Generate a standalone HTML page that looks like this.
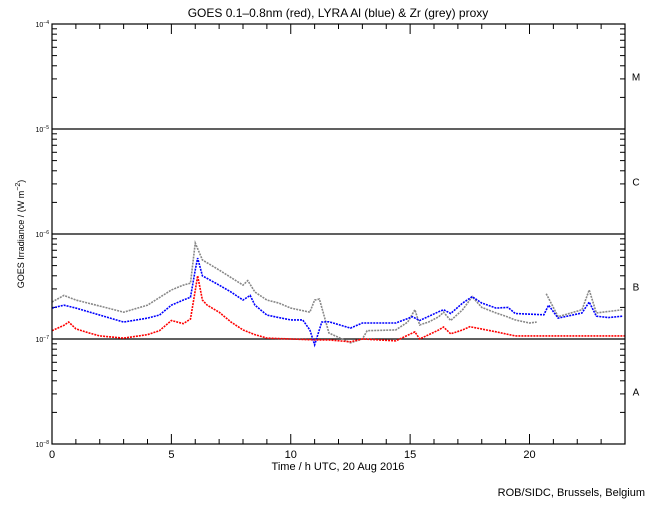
<!DOCTYPE html>
<html><head><meta charset="utf-8"><style>
body{margin:0;background:#fff;}
svg text{font-family:"Liberation Sans",sans-serif;}
</style></head><body>
<svg id="c" width="650" height="500" xmlns="http://www.w3.org/2000/svg">
<rect width="650" height="500" fill="#fff"/>
<text x="338" y="17" font-size="12" text-anchor="middle">GOES 0.1–0.8nm (red), LYRA Al (blue) &amp; Zr (grey) proxy</text>
<text x="338" y="470" font-size="11" text-anchor="middle">Time / h UTC, 20 Aug 2016</text>
<text transform="translate(24,234) rotate(-90)" font-size="9" text-anchor="middle">GOES Irradiance / (W m<tspan dy="-4" font-size="7">−2</tspan><tspan dy="4">)</tspan></text>
<text x="645" y="496" font-size="11" text-anchor="end">ROB/SIDC, Brussels, Belgium</text>
<g id="axes"></g><g id="series"></g>
<rect x="52" y="24" width="573" height="420" fill="none" stroke="#000" stroke-width="1.2"/>
</svg>
<script>
const classLabels=["A","B","C","M"];
const yDecades=[-8,-7,-6,-5,-4];
const xTicks=[0,5,10,15,20];
const hoursRed=[0,0.5,0.7,1,1.5,2,3,4,4.5,5,5.5,5.8,6,6.1,6.3,6.5,7,7.5,8,8.5,9,10,11,11.6,12.5,13,14.4,15.2,15.4,16.2,16.4,16.7,17.2,17.5,18.6,19.4,24];
const red=[1.2,1.35,1.45,1.25,1.15,1.07,1.02,1.1,1.2,1.5,1.4,1.55,2.9,4.0,2.35,2.1,1.8,1.45,1.22,1.1,1.02,1.0,0.98,0.98,0.94,1.0,0.96,1.17,1.0,1.22,1.3,1.12,1.22,1.31,1.17,1.07,1.07];
const hoursBlue=[0,0.5,1,2,3,4,4.5,5,5.5,5.8,6,6.1,6.3,7,7.5,8,8.3,8.5,9,9.5,10,10.5,10.8,11,11.3,11.6,12.5,13,14.4,15.1,15.4,16.2,16.4,16.7,17.2,17.6,18,18.6,19.1,19.4,20.6,20.8,21.2,22.2,22.5,22.8,23.3,23.9];
const blue=[1.97,2.1,1.97,1.69,1.45,1.58,1.69,2.1,2.35,2.5,4.54,5.9,4.0,3.26,2.8,2.35,2.6,2.1,1.69,1.6,1.52,1.52,1.22,0.88,1.45,1.46,1.27,1.42,1.42,1.63,1.5,1.82,1.9,1.75,2.2,2.53,2.2,1.97,2.0,1.75,1.7,2.1,1.58,1.77,2.25,1.65,1.6,1.65];
const hoursGrey=[0,0.5,1,2,3,4,5,5.5,5.8,6,6.3,7,8,8.2,8.5,9,9.5,10,10.8,11,11.2,11.6,12.5,13,13.2,14.4,14.9,15.2,15.4,15.8,16.2,16.4,16.7,17.2,17.6,18,18.6,19,19.4,20,20.3,20.6,20.7,21.2,22.2,22.5,22.8,23.9];
const grey=[2.25,2.6,2.35,2.06,1.8,2.1,2.93,3.26,3.4,8.2,5.66,4.54,3.26,3.6,2.8,2.35,2.2,1.97,1.8,2.35,2.4,1.14,0.92,1.0,1.2,1.22,1.45,1.9,1.36,1.46,1.63,1.8,1.5,1.9,2.53,2.0,1.77,1.65,1.52,1.42,1.45,null,2.7,1.63,1.9,2.93,1.77,1.9];
const X0=52,X1=625,YT=24,YB=444,NS="http://www.w3.org/2000/svg";
const xs=h=>X0+(X1-X0)*h/24;
const ys=v=>YB-(YB-YT)*(Math.log10(v*1e-7)+8)/4;
const ax=document.getElementById('axes'),se=document.getElementById('series');
function mk(t,a,p){const e=document.createElementNS(NS,t);for(const k in a)e.setAttribute(k,a[k]);p.appendChild(e);return e;}
for(let h=0;h<=24;h++){const maj=h%5==0,L=maj?10:5;
 let t=mk('line',{x1:xs(h),x2:xs(h),y1:YB,y2:YB-L,stroke:'#000'},ax);
 
 
 t=mk('line',{x1:xs(h),x2:xs(h),y1:YT,y2:YT+L,stroke:'#000'},ax);
 
 }
xTicks.forEach(h=>{const t=mk('text',{x:xs(h),y:YB+14,'font-size':11,'text-anchor':'middle'},ax);t.textContent=h;
 
 });
yDecades.forEach((d,i)=>{const y=ys(Math.pow(10,d+7));
 const t=mk('text',{x:X0-3,y:y+3,'font-size':7,'text-anchor':'end'},ax);
 t.innerHTML='10<tspan dy="-3" font-size="5">'+(d<0?'−':'')+Math.abs(d)+'</tspan>';
 
 
 if(d>-8&&d<-4){const g=mk('line',{x1:X0,x2:X1,y1:y,y2:y,stroke:'#000','stroke-width':1.2},ax);
  
  }
 if(i<4){for(let m=2;m<=9;m++){const yy=ys(m*Math.pow(10,d+7));
  let a=mk('line',{x1:X0,x2:X0+5,y1:yy,y2:yy,stroke:'#000'},ax);
  
  
  a=mk('line',{x1:X1,x2:X1-5,y1:yy,y2:yy,stroke:'#000'},ax);
  
  }
  const c=mk('text',{x:636,y:ys(Math.pow(10,d+7.5))+4,'font-size':10,'text-anchor':'middle'},ax);c.textContent=classLabels[i];
  
  }});
function line(hs,vs,col,name){
 let segs=[[]];hs.forEach((h,i)=>{if(vs[i]==null)segs.push([]);else segs[segs.length-1].push(xs(h)+','+ys(vs[i]));});
 segs.filter(s=>s.length).forEach(s=>{const p=mk('polyline',{points:s.join(' '),fill:'none',stroke:col,'stroke-width':1.6,'stroke-dasharray':'2 1'},se);
 
 });}
line(hoursGrey,grey,'#888','zr-grey-series');
line(hoursBlue,blue,'#0000ff','al-blue-series');
line(hoursRed,red,'#ff0000','goes-red-series');
</script>
</body></html>
